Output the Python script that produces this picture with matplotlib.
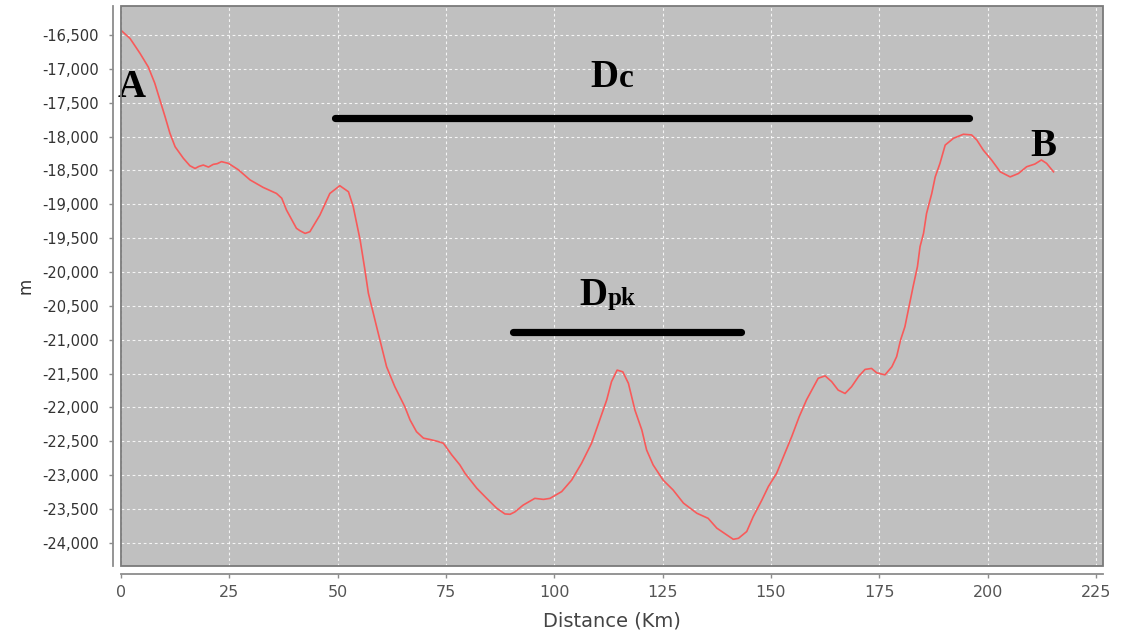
import matplotlib
matplotlib.use("Agg")
import matplotlib.pyplot as plt
from matplotlib.patches import Rectangle

distance_km = [0.2, 2.1, 4.4, 6.3, 7.8, 9.0, 10.2, 11.3, 12.5, 14.4, 15.9, 17.1, 18.0, 19.0,
               20.2, 21.3, 22.2, 23.2, 24.8, 27.1, 29.8, 32.8, 35.9, 37.1, 38.2, 39.0, 40.5,
               41.3, 42.5, 43.6, 45.9, 48.2, 50.5, 52.5, 53.6, 55.2, 56.3, 57.1, 59.0, 61.3,
               63.2, 65.5, 66.7, 68.2, 69.8, 71.3, 72.9, 74.4, 75.5, 76.3, 78.2, 79.4, 82.1,
               84.4, 86.7, 88.6, 89.8, 90.9, 92.8, 95.5, 97.5, 99.0, 101.7, 104.0, 106.3,
               108.6, 110.5, 112.1, 113.2, 114.5, 115.8, 117.1, 118.6, 120.2, 121.3, 122.8,
               125.1, 127.4, 129.8, 132.9, 135.5, 137.5, 139.8, 141.3, 142.5, 144.4, 145.9,
               147.9, 149.4, 151.3, 153.2, 154.8, 156.5, 158.2, 160.9, 162.5, 164.0, 165.5,
               167.1, 168.6, 170.2, 171.7, 173.2, 174.4, 176.3, 177.9, 179.0, 179.9, 180.9,
               181.7, 182.8, 183.8, 184.4, 185.2, 185.9, 187.1, 187.9, 189.0, 190.2, 192.1,
               194.4, 196.3, 197.5, 199.0, 200.9, 202.9, 205.2, 207.1, 209.0, 210.9, 212.4,
               213.6, 215.2]
depth_m = [-16440, -16550, -16770, -16970, -17210, -17460, -17710, -17950, -18150, -18320,
           -18430, -18470, -18440, -18420, -18450, -18410, -18400, -18370, -18395, -18490,
           -18640, -18750, -18840, -18910, -19085, -19180, -19355, -19390, -19430, -19405,
           -19160, -18840, -18725, -18815, -19035, -19530, -19970, -20315, -20810, -21400,
           -21695, -21990, -22185, -22360, -22455, -22475, -22500, -22530, -22630, -22700,
           -22850, -22975, -23195, -23345, -23490, -23575, -23580, -23545, -23445, -23345,
           -23360, -23345, -23245, -23075, -22825, -22530, -22185, -21890, -21620, -21450,
           -21475, -21645, -22040, -22335, -22630, -22850, -23075, -23220, -23415, -23565,
           -23640, -23785, -23885, -23950, -23935, -23835, -23615, -23370, -23170, -22975,
           -22680, -22430, -22140, -21890, -21570, -21535, -21620, -21745, -21795, -21695,
           -21545, -21440, -21425, -21490, -21520, -21400, -21250, -21005, -20810, -20560,
           -20215, -19920, -19625, -19430, -19135, -18840, -18595, -18395, -18125, -18025,
           -17965, -17975, -18050, -18200, -18345, -18520, -18595, -18545, -18445, -18405,
           -18345, -18395, -18520]

x_ticks = [0, 25, 50, 75, 100, 125, 150, 175, 200, 225]
y_ticks = [-24000, -23500, -23000, -22500, -22000, -21500, -21000, -20500, -20000,
           -19500, -19000, -18500, -18000, -17500, -17000, -16500]

dc_span = [49.4, 195.7]
dc_level = -17726
dpk_span = [90.5, 143.1]
dpk_level = -20887

fig = plt.figure(figsize=(11.22, 6.38), dpi=100)
ax = fig.add_axes([0.1078, 0.1133, 0.8752, 0.8773])
ax.set_facecolor("#C0C0C0")
ax.set_xlim(0, 226.6)
ax.set_ylim(-24340, -16070)

ax.grid(True, color="white", linestyle=(0, (2.5, 2.5)), linewidth=0.8, alpha=0.85)
ax.set_axisbelow(True)

ax.plot(distance_km, depth_m, color="#F85A5A", linewidth=1.2, zorder=3)

ax.plot(dc_span, [dc_level, dc_level], color="black", linewidth=5.2,
        solid_capstyle="round", zorder=4)
ax.plot(dpk_span, [dpk_level, dpk_level], color="black", linewidth=5.2,
        solid_capstyle="round", zorder=4)

serif = ["Liberation Serif", "DejaVu Serif"]
ax.text(2.5, -17416, "A", fontsize=28, fontweight="bold", family=serif,
        ha="center", va="baseline", zorder=5)
ax.text(212.8, -18287, "B", fontsize=28, fontweight="bold", family=serif,
        ha="center", va="baseline", zorder=5)
ax.text(114.8, -17268, "D", fontsize=28, fontweight="bold", family=serif,
        ha="right", va="baseline", zorder=5)
ax.text(114.8, -17268, "c", fontsize=24, fontweight="bold", family=serif,
        ha="left", va="baseline", zorder=5)
ax.text(112.3, -20488, "D", fontsize=28, fontweight="bold", family=serif,
        ha="right", va="baseline", zorder=5)
ax.text(112.3, -20488, "pk", fontsize=18, fontweight="bold", family=serif,
        ha="left", va="baseline", zorder=5)

for side in ("top", "right"):
    ax.spines[side].set_visible(False)
for side in ("left", "bottom"):
    ax.spines[side].set_position(("outward", 6))
    ax.spines[side].set_color("#8C8C8C")
    ax.spines[side].set_linewidth(1.3)

ax.add_patch(Rectangle((0, 0), 1, 1, transform=ax.transAxes, fill=False,
                       edgecolor="#7A7A7A", linewidth=1.3, zorder=6, clip_on=False))

ax.set_xticks(x_ticks)
ax.set_xticklabels([str(v) for v in x_ticks])
ax.set_yticks(y_ticks)
ax.set_yticklabels([f"{v:,}" for v in y_ticks])
ax.tick_params(axis="x", length=3, width=1, color="#8C8C8C", pad=5,
               labelsize=11.5, labelcolor="#555555")
ax.tick_params(axis="y", length=3, width=1, color="#8C8C8C", pad=7,
               labelsize=10.5, labelcolor="#333333")

ax.set_xlabel("Distance (Km)", fontsize=14, color="#444444", labelpad=8)
ax.set_ylabel("m", fontsize=12, color="#333333", labelpad=5)

fig.savefig("out.png", dpi=100)
